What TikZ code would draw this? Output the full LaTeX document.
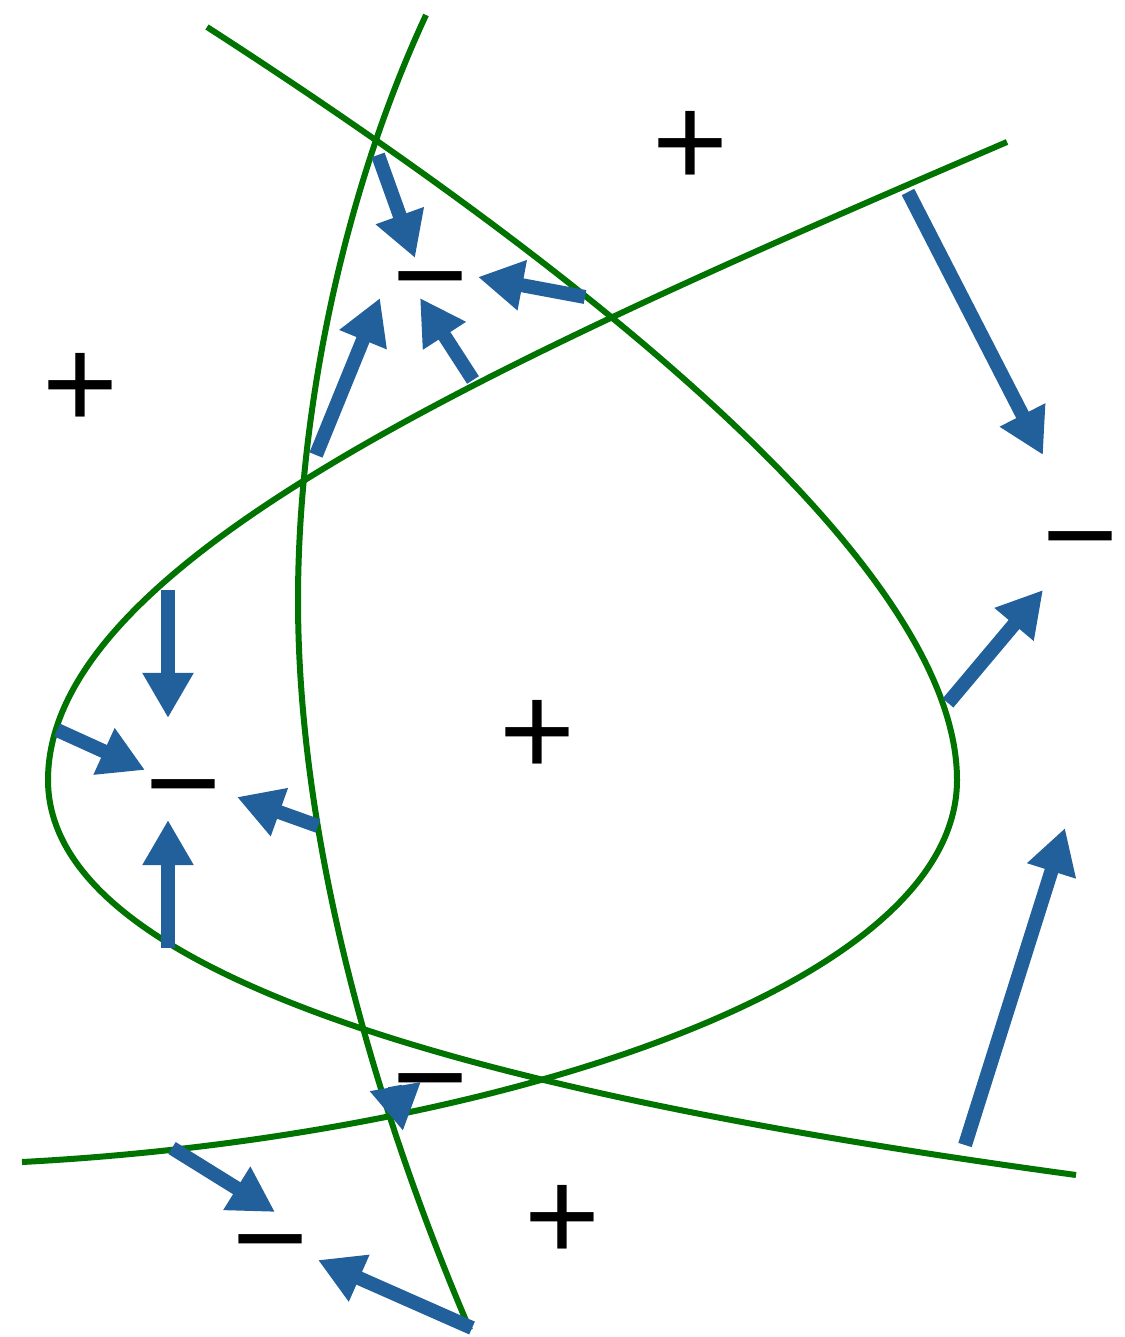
\documentclass[tikz,border=0pt]{standalone}
\usepackage{fontspec}
\setmainfont{Liberation Sans}
\usetikzlibrary{arrows.meta}
\definecolor{curvegreen}{RGB}{0,115,0}
\definecolor{fieldblue}{RGB}{34,96,155}

\begin{document}
\begin{tikzpicture}[x=0.01cm,y=-0.01cm,
  curve/.style={draw=curvegreen,line width=0.06cm},
  arr/.style={draw=fieldblue,line width=0.14cm,-{Triangle[length=0.45cm,width=0.48cm]}},
  sign/.style={font=\fontsize{37}{37}\selectfont,inner sep=0pt},
  minus/.style={sign,yshift=-0.21cm},
  plus/.style={sign,yshift=-0.06cm}]
  \useasboundingbox (0,0) rectangle (1125,1337);
  \draw[curve] (207,27) .. controls (560,255) and (957,560) .. (957,780)
    .. controls (957,990) and (480,1138) .. (22,1162);
  \draw[curve] (1007,142) .. controls (500,360) and (48,560) .. (48,780)
    .. controls (48,1000) and (600,1110) .. (1076,1175);
  \draw[curve] (426,15) .. controls (340,200) and (298,420) .. (298,600)
    .. controls (298,850) and (380,1120) .. (470,1330);
  \node[minus] (m1) at (430,275) {−};
  \node[minus] (m2) at (1080,535) {−};
  \node[minus] (m3) at (183,783) {−};
  \node[minus] (m4) at (430,1077) {−};
  \node[minus] (m5) at (270,1238) {−};
  \node[plus] (p1) at (690,143) {+};
  \node[plus] (p2) at (80,385) {+};
  \node[plus] (p3) at (537,732) {+};
  \node[plus] (p4) at (562,1217) {+};
  \coordinate (a1s) at (378,155);  \coordinate (a1e) at (415,258);
  \coordinate (a2s) at (585,297);  \coordinate (a2e) at (478,277);
  \coordinate (a3s) at (473,380);  \coordinate (a3e) at (420,298);
  \coordinate (a4s) at (316,455);  \coordinate (a4e) at (380,298);
  \coordinate (a5s) at (908,192);  \coordinate (a5e) at (1043,455);
  \coordinate (a6s) at (948,703);  \coordinate (a6e) at (1043,590);
  \coordinate (a7s) at (965,1145); \coordinate (a7e) at (1065,828);
  \coordinate (a8s) at (168,590);  \coordinate (a8e) at (168,718);
  \coordinate (a9s) at (57,730);   \coordinate (a9e) at (145,770);
  \coordinate (a10s) at (168,948); \coordinate (a10e) at (168,820);
  \coordinate (a11s) at (318,826); \coordinate (a11e) at (237,797);
  \coordinate (a12s) at (395,1086); \coordinate (a12e) at (403,1131);
  \coordinate (a13s) at (172,1148); \coordinate (a13e) at (275,1212);
  \coordinate (a14s) at (472,1328); \coordinate (a14e) at (318,1260);
  \foreach \i in {1,...,14}
    \draw[arr] (a\i s) -- (a\i e);
\end{tikzpicture}
\end{document}
